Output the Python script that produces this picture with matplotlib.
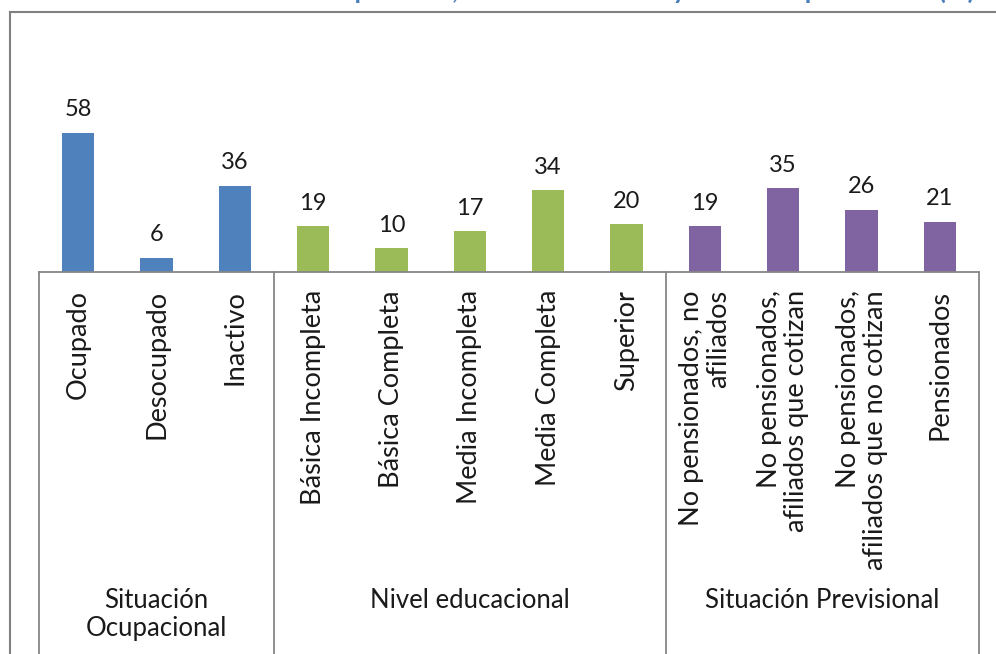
import matplotlib.pyplot as plt

plt.rcParams['font.family'] = ['Lato', 'DejaVu Sans']

# Datos
categorias = ['Ocupado', 'Desocupado', 'Inactivo',
              'Básica Incompleta', 'Básica Completa', 'Media Incompleta',
              'Media Completa', 'Superior',
              'No pensionados, no\nafiliados', 'No pensionados,\nafiliados que cotizan',
              'No pensionados,\nafiliados que no cotizan', 'Pensionados']
valores = [58, 6, 36, 19, 10, 17, 34, 20, 19, 35, 26, 21]
grupos = ['Situación\nOcupacional', 'Nivel educacional', 'Situación Previsional']
tamanos_grupo = [3, 5, 4]
colores_grupo = ['#4F81BD', '#9BBB59', '#8064A2']
titulo = 'Distribución de la situación ocupacional, nivel educacional y situación previsional (%)'

fig = plt.figure(figsize=(9.96, 6.54), dpi=100)
W, H = 996, 654
base_y = 272
ax = fig.add_axes([39 / W, 1 - base_y / H, (979 - 39) / W, 168 / H])

colores = []
for c, n in zip(colores_grupo, tamanos_grupo):
    colores += [c] * n

x = list(range(len(categorias)))
barras = ax.bar(x, valores, width=0.41, color=colores)
for xi, v in zip(x, valores):
    ax.annotate(str(v), (xi, v), xytext=(0, 9), textcoords='offset points',
                ha='center', va='bottom', fontsize=17, color='#1a1a1a')

ax.set_xlim(-0.5, len(categorias) - 0.5)
ax.set_ylim(0, 70)
ax.set_xticks([])
ax.set_yticks([])
for s in ['top', 'right', 'left']:
    ax.spines[s].set_visible(False)
ax.spines['bottom'].set_color('#868686')
ax.spines['bottom'].set_linewidth(1.3)

# lineas divisorias de los grupos
trans = ax.get_xaxis_transform()
bordes = [-0.5]
for n in tamanos_grupo:
    bordes.append(bordes[-1] + n)
for b in bordes:
    ax.plot([b, b], [0, -2.5], transform=trans, color='#868686', lw=1.3, clip_on=False)

# etiquetas de categoria
for xi, cat in zip(x, categorias):
    ax.text(xi, -18 / 168, cat, transform=trans, rotation=90, ha='center', va='top',
            multialignment='right', fontsize=19.5, color='#1a1a1a', linespacing=1.1)

# etiquetas de grupo
for i, g in enumerate(grupos):
    centro = (bordes[i] + bordes[i + 1]) / 2
    ax.text(centro, -316 / 168, g, transform=trans, ha='center', va='top',
            fontsize=18.5, color='#1a1a1a', linespacing=1.15)

# marco exterior
fig.add_artist(plt.Line2D([10 / W, 10 / W], [0, 1 - 12 / H], color='#808080', lw=1.5))
fig.add_artist(plt.Line2D([10 / W, 1], [1 - 12 / H, 1 - 12 / H], color='#808080', lw=1.5))

# titulo (cortado en la parte superior, como en el original)
fig.text(975 / W, 1 + 1 / H, titulo, ha='right', va='baseline', fontsize=19,
         fontweight='bold', color='#4A7EBB')

fig.savefig('out.png', dpi=100)
